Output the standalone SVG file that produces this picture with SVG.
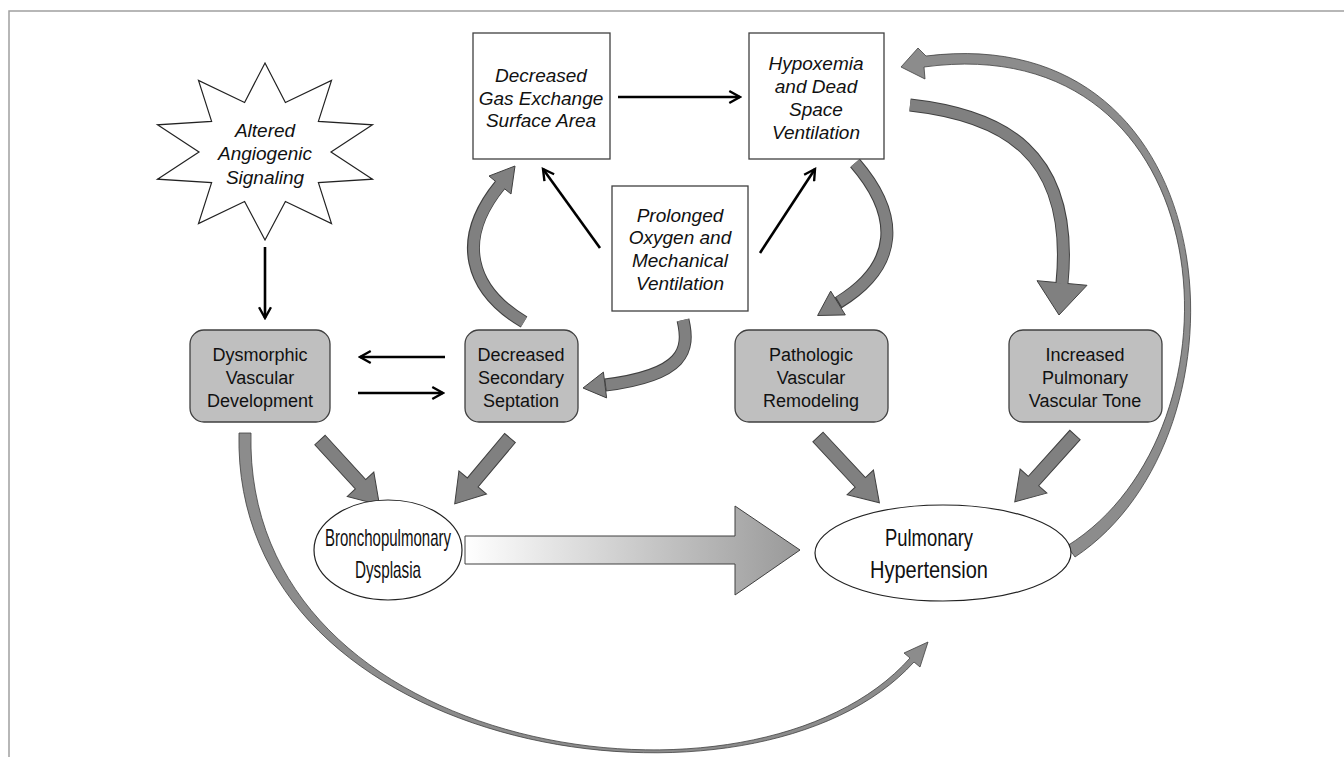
<svg xmlns="http://www.w3.org/2000/svg" width="1344" height="757" viewBox="0 0 1344 757">
<defs>
<style>
.box{fill:#fff;stroke:#404040;stroke-width:1.3}
.gbox{fill:#bfbfbf;stroke:#404040;stroke-width:1.3}
.ell{fill:#fff;stroke:#222;stroke-width:1.2}
.it{font-family:"Liberation Sans",Arial,sans-serif;font-style:italic;font-size:19px;fill:#111;text-anchor:middle}
.rg{font-family:"Liberation Sans",Arial,sans-serif;font-size:18px;fill:#111;text-anchor:middle}
.cd{font-family:"Liberation Sans",Arial,sans-serif;font-size:24px;fill:#111;text-anchor:middle}
.blk{stroke:#000;stroke-width:2.6;fill:none;marker-end:url(#open)}
.thk{fill:#808080;stroke:#404040;stroke-width:1}
.shO{fill:none;stroke:#404040;stroke-width:13}
.shI{fill:none;stroke:#808080;stroke-width:11}
.cres{fill:#8c8c8c;stroke:#404040;stroke-width:0.8}
</style>
<marker id="open" viewBox="0 0 12 12" refX="10" refY="6" markerWidth="5.5" markerHeight="5.5" orient="auto" markerUnits="strokeWidth">
<path d="M1,1 L10,6 L1,11" fill="none" stroke="#000" stroke-width="2"/>
</marker>
<linearGradient id="grad" x1="0" y1="0" x2="1" y2="0">
<stop offset="0" stop-color="#ffffff"/>
<stop offset="1" stop-color="#999999"/>
</linearGradient>
</defs>
<rect width="1344" height="757" fill="#fff"/>
<path d="M9 757 V11 H1344" fill="none" stroke="#a0a0a0" stroke-width="1.5"/>

<g id="connectors">
<line class="blk" x1="618" y1="97" x2="740" y2="97"/>
<line class="blk" x1="600" y1="248" x2="543" y2="169"/>
<line class="blk" x1="760" y1="253" x2="815" y2="169"/>
<line class="blk" x1="265" y1="247" x2="265" y2="318"/>
<line class="blk" x1="445" y1="357" x2="360" y2="357"/>
<line class="blk" x1="358" y1="393" x2="443" y2="393"/>

<polygon class="thk" transform="translate(320,440) rotate(47.5)" points="0,-7 60,-7 60,-18 88,0 60,18 60,7 0,7"/>
<polygon class="thk" transform="translate(510,438) rotate(130)" points="0,-7 58,-7 58,-18 86,0 58,18 58,7 0,7"/>
<polygon class="thk" transform="translate(818,437) rotate(47)" points="0,-7 62,-7 62,-18 90,0 62,18 62,7 0,7"/>
<polygon class="thk" transform="translate(1075,435) rotate(132)" points="0,-7 62,-7 62,-18 90,0 62,18 62,7 0,7"/>

<polygon points="465,536 735,536 735,506 800,550 735,595 735,564 465,564" fill="url(#grad)" stroke="#404040" stroke-width="1"/>

<path class="shO" d="M524 322 C470 290 455 240 500 185"/>
<polygon class="thk" points="515,166 511,194 489,176"/>
<path class="shI" d="M524 322 C470 290 455 240 501 184"/>

<path class="shO" d="M683 320 C690 350 685 375 605 385"/>
<polygon class="thk" points="583,388 606.6,397.9 603.4,372.1"/>
<path class="shI" d="M683 320 C690 350 685 375 606 385"/>

<path class="shO" d="M855 163 C900 215 900 265 838 303"/>
<polygon class="thk" points="817.6,315.5 845.3,314.9 830.7,291.1"/>
<path class="shI" d="M855 163 C900 215 900 265 839 302"/>

<path class="shO" d="M910 105 C1000 115 1075 150 1062 283"/>
<polygon class="thk" points="1059,315 1087,285.3 1037,280.7"/>
<path class="shI" d="M910 105 C1000 115 1075 150 1062 284"/>

<path class="cres" d="M1075 557 C1260 434 1232 18 926 56 L918 48 L901 67 L925 79 L924 67 C1226 26 1254 430 1067 546 Z"/>
<path class="cres" d="M239 433 C231 760 757 836 914 662 L920 667 L928 642 L904 653 L910 658 C755 833 243 758 251 433 Z"/>
</g>

<g id="star-altered">
<polygon points="265,63 285.4,102.5 331.5,80.5 318.4,121.4 372.5,124.8 331,152 372.5,179.2 318.4,182.6 331.5,223.5 285.4,201.5 265,240 244.6,201.5 198.5,223.5 211.6,182.6 157.5,179.2 199,152 157.5,124.8 211.6,121.4 198.5,80.5 244.6,102.5" fill="#fff" stroke="#222" stroke-width="1.2"/>
<text class="it" x="265" y="137">Altered</text>
<text class="it" x="265" y="160">Angiogenic</text>
<text class="it" x="265" y="184">Signaling</text>
</g>

<g id="box-gas">
<rect class="box" x="473" y="33" width="137" height="126"/>
<text class="it" x="541" y="82">Decreased</text>
<text class="it" x="541" y="105">Gas Exchange</text>
<text class="it" x="541" y="127">Surface Area</text>
</g>

<g id="box-hypox">
<rect class="box" x="749" y="33" width="135" height="126"/>
<text class="it" x="816" y="70">Hypoxemia</text>
<text class="it" x="816" y="93">and Dead</text>
<text class="it" x="816" y="116">Space</text>
<text class="it" x="816" y="139">Ventilation</text>
</g>

<g id="box-prolonged">
<rect class="box" x="612" y="186" width="136" height="125"/>
<text class="it" x="680" y="222">Prolonged</text>
<text class="it" x="680" y="244">Oxygen and</text>
<text class="it" x="680" y="267">Mechanical</text>
<text class="it" x="680" y="290">Ventilation</text>
</g>

<g id="box-dysmorphic">
<rect class="gbox" x="190" y="330" width="140" height="92" rx="14"/>
<text class="rg" x="260" y="361">Dysmorphic</text>
<text class="rg" x="260" y="384">Vascular</text>
<text class="rg" x="260" y="407">Development</text>
</g>

<g id="box-septation">
<rect class="gbox" x="465" y="330" width="113" height="92" rx="14"/>
<text class="rg" x="521" y="361">Decreased</text>
<text class="rg" x="521" y="384">Secondary</text>
<text class="rg" x="521" y="407">Septation</text>
</g>

<g id="box-remodeling">
<rect class="gbox" x="735" y="330" width="153" height="92" rx="14"/>
<text class="rg" x="811" y="361">Pathologic</text>
<text class="rg" x="811" y="384">Vascular</text>
<text class="rg" x="811" y="407">Remodeling</text>
</g>

<g id="box-tone">
<rect class="gbox" x="1009" y="330" width="153" height="92" rx="14"/>
<text class="rg" x="1085" y="361">Increased</text>
<text class="rg" x="1085" y="384">Pulmonary</text>
<text class="rg" x="1085" y="407">Vascular Tone</text>
</g>

<g id="ell-bpd">
<ellipse class="ell" cx="388" cy="550" rx="74" ry="50"/>
<text class="cd" x="388" y="546" textLength="126" lengthAdjust="spacingAndGlyphs">Bronchopulmonary</text>
<text class="cd" x="388" y="578" textLength="66" lengthAdjust="spacingAndGlyphs">Dysplasia</text>
</g>

<g id="ell-ph">
<ellipse class="ell" cx="943" cy="553" rx="128" ry="48"/>
<text class="cd" x="929" y="546" textLength="88" lengthAdjust="spacingAndGlyphs">Pulmonary</text>
<text class="cd" x="929" y="578" textLength="118" lengthAdjust="spacingAndGlyphs">Hypertension</text>
</g>
</svg>
